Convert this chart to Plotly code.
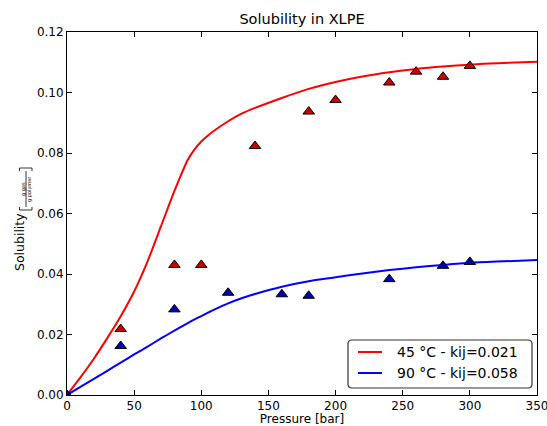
import plotly.graph_objects as go

# ---- data ----
curve_p = [0, 10, 20, 30, 40, 50, 60, 70, 80, 90, 95, 100, 105, 110, 120, 130, 140, 160,
           180, 200, 220, 240, 260, 280, 300, 320, 350]
curve_45 = [0.0, 0.0058, 0.012, 0.0188, 0.026, 0.0342, 0.0442, 0.0558, 0.0675, 0.0778,
            0.0812, 0.0838, 0.0858, 0.0875, 0.0905, 0.093, 0.0949, 0.0982, 0.1012,
            0.1035, 0.1053, 0.1067, 0.1078, 0.1086, 0.1092, 0.1097, 0.1102]
curve_90 = [0.0, 0.0027, 0.0053, 0.008, 0.0107, 0.0134, 0.016, 0.0187, 0.0213, 0.0238,
            0.025, 0.0261, 0.0272, 0.0283, 0.0303, 0.032, 0.0334, 0.0358, 0.0376,
            0.0389, 0.0402, 0.0413, 0.0422, 0.0430, 0.0437, 0.0441, 0.0446]

exp45_p = [0, 40, 80, 100, 140, 180, 200, 240, 260, 280, 300]
exp45_s = [0.0, 0.0218, 0.043, 0.043, 0.0823, 0.0937, 0.0975, 0.1033, 0.1069, 0.1052, 0.1088]
exp90_p = [0, 40, 80, 120, 160, 180, 240, 280, 300]
exp90_s = [0.0, 0.0162, 0.0283, 0.0338, 0.0333, 0.0328, 0.0383, 0.0427, 0.044]

legend_names = ["45 °C - kij=0.021", "90 °C - kij=0.058"]
x_ticks = [0, 50, 100, 150, 200, 250, 300, 350]
y_ticks = [0.0, 0.02, 0.04, 0.06, 0.08, 0.10, 0.12]

FONT = "DejaVu Sans"
RED_LINE = "#ff0000"
BLUE_LINE = "#0000ff"
RED_MK = "#cc0000"
BLUE_MK = "#0000b0"
line_colors = [RED_LINE, BLUE_LINE]

# plot area in pixels (for placing label / legend pieces)
W, H = 547, 426
L, R, T, B = 67, 537, 32, 395


def px(xp):
    return (xp - L) / (R - L)


def py(yp):
    return (B - yp) / (B - T)


fig = go.Figure()
fig.add_trace(go.Scatter(x=curve_p, y=curve_45, mode="lines", name=legend_names[0],
                         showlegend=False,
                         line=dict(color=RED_LINE, width=2, shape="spline", smoothing=0.6)))
fig.add_trace(go.Scatter(x=curve_p, y=curve_90, mode="lines", name=legend_names[1],
                         showlegend=False,
                         line=dict(color=BLUE_LINE, width=2, shape="spline", smoothing=0.6)))
fig.add_trace(go.Scatter(x=exp45_p, y=exp45_s, mode="markers", showlegend=False,
                         marker=dict(symbol="triangle-up", size=10, color=RED_MK,
                                     line=dict(color="black", width=1))))
fig.add_trace(go.Scatter(x=exp90_p, y=exp90_s, mode="markers", showlegend=False,
                         marker=dict(symbol="triangle-up", size=10, color=BLUE_MK,
                                     line=dict(color="black", width=1))))

axis_common = dict(showline=True, linecolor="black", linewidth=1, mirror="ticks",
                   ticks="inside", ticklen=5, tickcolor="black", showgrid=False,
                   zeroline=False, ticklabeloverflow="allow", automargin=False,
                   tickfont=dict(family=FONT, size=12, color="black"))

fig.update_layout(
    width=W, height=H,
    margin=dict(l=L, r=W - R, t=T, b=H - B, autoexpand=False),
    paper_bgcolor="white", plot_bgcolor="white",
    font=dict(family=FONT, size=12, color="black"),
    showlegend=False,
    title=dict(text="Solubility in XLPE", xref="container", x=302 / W, xanchor="center",
               yref="container", y=1 - 19 / H, yanchor="middle",
               font=dict(family=FONT, size=14.5, color="black")),
    xaxis=dict(range=[0, 350], tickvals=x_ticks, ticktext=[str(v) for v in x_ticks],
               title=dict(text="Pressure [bar]", standoff=6,
                          font=dict(family=FONT, size=12)), **axis_common),
    yaxis=dict(range=[0, 0.12], tickvals=y_ticks, ticktext=[f"{v:.2f}" for v in y_ticks],
               **axis_common),
)

# y-axis label: "Solubility [g gas / g polymer]" with stacked fraction
fig.add_annotation(text="Solubility", xref="paper", yref="paper", x=px(19), y=py(242),
                   xanchor="center", yanchor="middle", textangle=-90,
                   showarrow=False, font=dict(family=FONT, size=12.5, color="black"))
fig.add_annotation(text="g gas", xref="paper", yref="paper", x=px(23), y=py(189),
                   xanchor="center", yanchor="middle", textangle=-90,
                   showarrow=False, font=dict(family=FONT, size=5, color="black"))
fig.add_annotation(text="g polymer", xref="paper", yref="paper", x=px(29), y=py(189),
                   xanchor="center", yanchor="middle", textangle=-90,
                   showarrow=False, font=dict(family=FONT, size=5, color="black"))
fig.add_shape(type="line", xref="paper", yref="paper", x0=px(26), x1=px(26),
              y0=py(171), y1=py(207), line=dict(color="black", width=0.8))
fig.add_shape(type="path", xref="paper", yref="paper",
              path=(f"M {px(19.5)} {py(207)} L {px(19.5)} {py(210)} "
                    f"L {px(32)} {py(210)} L {px(32)} {py(207)}"),
              line=dict(color="black", width=0.8))
fig.add_shape(type="path", xref="paper", yref="paper",
              path=(f"M {px(19.5)} {py(171)} L {px(19.5)} {py(168)} "
                    f"L {px(32)} {py(168)} L {px(32)} {py(171)}"),
              line=dict(color="black", width=0.8))

# legend box (matplotlib style, rounded corners)
bx0, bx1, by0, by1, rr = 348, 532, 340, 388, 4
box_path = (f"M {px(bx0 + rr)} {py(by0)} L {px(bx1 - rr)} {py(by0)} "
            f"Q {px(bx1)} {py(by0)} {px(bx1)} {py(by0 + rr)} "
            f"L {px(bx1)} {py(by1 - rr)} Q {px(bx1)} {py(by1)} {px(bx1 - rr)} {py(by1)} "
            f"L {px(bx0 + rr)} {py(by1)} Q {px(bx0)} {py(by1)} {px(bx0)} {py(by1 - rr)} "
            f"L {px(bx0)} {py(by0 + rr)} Q {px(bx0)} {py(by0)} {px(bx0 + rr)} {py(by0)} Z")
fig.add_shape(type="path", xref="paper", yref="paper", path=box_path,
              fillcolor="white", line=dict(color="#333333", width=1.2), layer="above")
for i, (name, col) in enumerate(zip(legend_names, line_colors)):
    yy = 352 + 21 * i
    fig.add_shape(type="line", xref="paper", yref="paper", x0=px(358), x1=px(382),
                  y0=py(yy), y1=py(yy), line=dict(color=col, width=2), layer="above")
    fig.add_annotation(text=name, xref="paper", yref="paper", x=px(395), y=py(yy),
                       xanchor="left", yanchor="middle", showarrow=False,
                       font=dict(family=FONT, size=14, color="black"))

fig.write_html("out.html")
